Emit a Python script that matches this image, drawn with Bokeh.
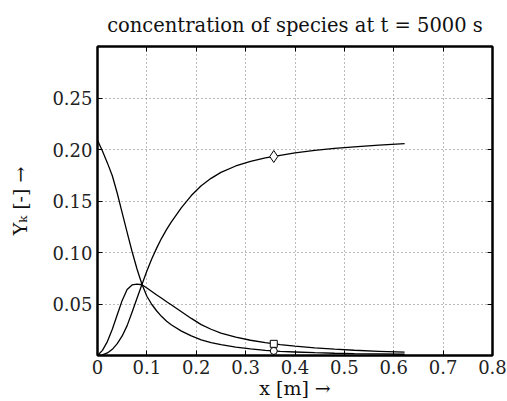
import numpy as np
from bokeh.plotting import figure
from bokeh.models import Range1d, FixedTicker, LinearAxis
from bokeh.embed import file_html
from bokeh.resources import INLINE

# ---- data ----
x = [0.0, 0.01, 0.02, 0.03, 0.04, 0.05, 0.06, 0.07, 0.08, 0.09, 0.10, 0.11, 0.12, 0.13,
     0.14, 0.15, 0.17, 0.19, 0.21, 0.23, 0.25, 0.28, 0.31, 0.34, 0.37, 0.40, 0.44, 0.48,
     0.52, 0.57, 0.622]
y_rising = [0.0, 0.0006, 0.0025, 0.0060, 0.0115, 0.0190, 0.0290, 0.0420, 0.0555, 0.0690,
            0.0820, 0.0940, 0.1045, 0.1140, 0.1225, 0.1300, 0.1435, 0.1553, 0.1648, 0.1720,
            0.1778, 0.1840, 0.1885, 0.1918, 0.1943, 0.1968, 0.1992, 0.2010, 0.2026, 0.2042,
            0.2057]
y_hump = [0.0, 0.0050, 0.0135, 0.0255, 0.0395, 0.0535, 0.0640, 0.0685, 0.0693, 0.0687,
          0.0655, 0.0622, 0.0588, 0.0555, 0.0522, 0.0490, 0.0425, 0.0360, 0.0300, 0.0255,
          0.0218, 0.0178, 0.0148, 0.0124, 0.0105, 0.0091, 0.0075, 0.0062, 0.0051, 0.0041,
          0.0032]
y_falling = [0.2090, 0.1985, 0.1870, 0.1745, 0.1575, 0.1385, 0.1195, 0.1010, 0.0840, 0.0692,
             0.0575, 0.0495, 0.0432, 0.0378, 0.0333, 0.0296, 0.0237, 0.0190, 0.0152, 0.0125,
             0.0105, 0.0082, 0.0065, 0.0050, 0.0040, 0.0034, 0.0027, 0.0022, 0.0018, 0.0015,
             0.0012]
marker_x = 0.357

x_ticks = [0.0, 0.1, 0.2, 0.3, 0.4, 0.5, 0.6, 0.7, 0.8]
x_tick_labels = ["0", "0.1", "0.2", "0.3", "0.4", "0.5", "0.6", "0.7", "0.8"]
y_ticks = [0.05, 0.10, 0.15, 0.20, 0.25]
y_tick_labels = ["0.05", "0.10", "0.15", "0.20", "0.25"]

FONT = "DejaVu Serif"

p = figure(width=507, height=401, output_backend="svg", toolbar_location=None,
           x_range=Range1d(0, 0.8), y_range=Range1d(0, 0.3),
           title="concentration of species at t = 5000 s",
           min_border_left=97, min_border_right=15, min_border_top=46, min_border_bottom=45)
p.background_fill_color = "white"
p.border_fill_color = "white"
p.outline_line_color = "black"
p.outline_line_width = 2

p.title.text_font = FONT
p.title.text_font_size = "19.5px"
p.title.text_font_style = "normal"
p.title.text_color = "#111111"
p.title.align = "center"
p.title.standoff = 20

# grid
for g in (p.xgrid, p.ygrid):
    g.grid_line_color = "#777777"
    g.grid_line_dash = "1 3"
    g.grid_line_width = 1
p.xgrid.ticker = FixedTicker(ticks=x_ticks)
p.ygrid.ticker = FixedTicker(ticks=y_ticks)

# axes
for ax, ticks, labels in ((p.xaxis[0], x_ticks, x_tick_labels), (p.yaxis[0], y_ticks, y_tick_labels)):
    ax.ticker = FixedTicker(ticks=ticks)
    ax.major_label_overrides = {t: l for t, l in zip(ticks, labels)}
    ax.major_label_text_font = FONT
    ax.major_label_text_font_size = "18px"
    ax.major_label_text_color = "#222222"
    ax.major_tick_in = 5
    ax.major_tick_out = 0
    ax.minor_tick_line_color = None
    ax.axis_line_width = 2
    ax.major_tick_line_width = 1
    ax.axis_label_text_font = FONT
    ax.axis_label_text_font_size = "19px"
    ax.axis_label_text_font_style = "normal"
    ax.axis_label_text_color = "#111111"

p.xaxis.axis_label = "x [m] →"
p.xaxis.major_label_standoff = 4
p.xaxis.axis_label_standoff = 0
p.yaxis.axis_label = "Yₖ [-] →"
p.yaxis.major_label_standoff = 5
p.yaxis.axis_label_standoff = 18

# mirrored ticks on right/top (labels invisible)
for loc, ticks in (("right", y_ticks), ("above", x_ticks)):
    ax2 = LinearAxis(ticker=FixedTicker(ticks=ticks), major_label_text_font_size="1px",
                     major_label_text_color=None, major_tick_in=5, major_tick_out=0,
                     minor_tick_line_color=None, axis_line_width=2, major_label_standoff=0)
    p.add_layout(ax2, loc)

# curves
for ys in (y_rising, y_hump, y_falling):
    p.line(x, ys, line_color="black", line_width=1.3)

mx = [marker_x]
p.scatter(mx, [float(np.interp(marker_x, x, y_rising))], marker="diamond", size=12,
          fill_color="white", line_color="black", line_width=1)
p.scatter(mx, [float(np.interp(marker_x, x, y_hump))], marker="square", size=7,
          fill_color="white", line_color="black", line_width=1)
p.scatter(mx, [float(np.interp(marker_x, x, y_falling))], marker="circle", size=7,
          fill_color="white", line_color="black", line_width=1)

open("out.html", "w").write(file_html(p, INLINE))
